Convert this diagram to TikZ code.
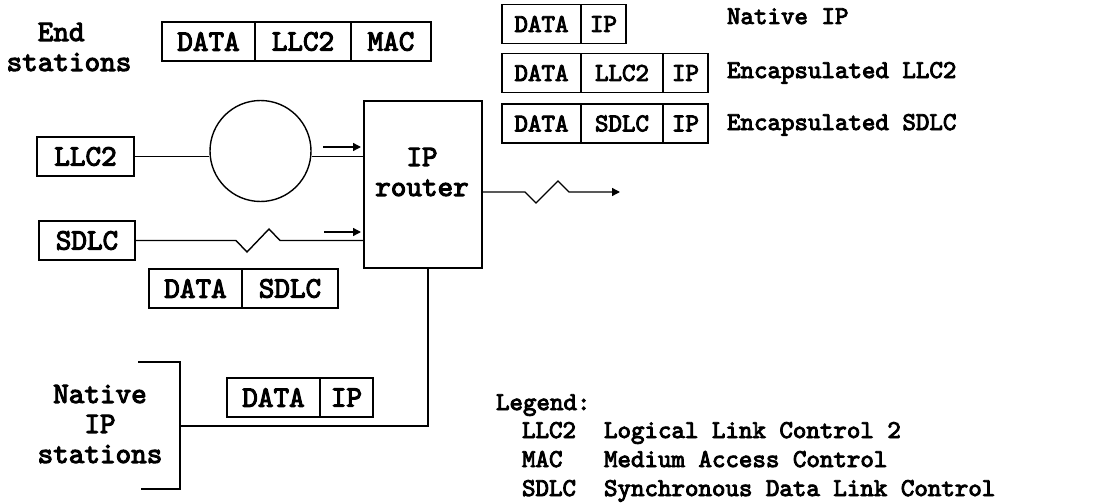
\documentclass[tikz,border=0pt]{standalone}
\usepackage{fontspec}
\newfontfamily\cour{lmmono10-regular.otf}[FakeBold=3.5]
\usetikzlibrary{arrows.meta,positioning}
\newcommand{\bigtt}{\cour\fontsize{29.7}{30}\selectfont}
\newcommand{\smalltt}{\cour\fontsize{25.7}{29}\selectfont}

\begin{document}
\begin{tikzpicture}[x=1pt,y=-1pt,line width=1.4pt,>={Triangle[length=8pt,width=8pt]},
  fld/.style={draw, minimum height=39pt, inner sep=0pt, outer sep=0pt, anchor=west, font=\bigtt},
  sfld/.style={fld, font=\smalltt},
  lbl/.style={font=\bigtt, align=center},
  txt/.style={anchor=base west, font=\smalltt}]
  \useasboundingbox (0,0) rectangle (1093,503);

  % frame at the end stations
  \node[lbl, align=left] (endst) at (69,47) {\phantom{st}End\\stations};
  \node[fld, minimum width=93pt] (md) at (162,41.5) {DATA};
  \node[fld, minimum width=96pt, right=0pt of md] (ml) {LLC2};
  \node[fld, minimum width=80pt, right=0pt of ml] (mm) {MAC};

  % frames leaving the router
  \node[sfld, minimum width=79pt] (ad) at (502,24) {DATA};
  \node[sfld, minimum width=45pt, right=0pt of ad] (ai) {IP};
  \node[sfld, minimum width=79pt] (bd) at (502,73) {DATA};
  \node[sfld, minimum width=82pt, right=0pt of bd] (bl) {LLC2};
  \node[sfld, minimum width=45pt, right=0pt of bl] (bi) {IP};
  \node[sfld, minimum width=79pt] (cd) at (502,123.5) {DATA};
  \node[sfld, minimum width=82pt, right=0pt of cd] (cs) {SDLC};
  \node[sfld, minimum width=45pt, right=0pt of cs] (ci) {IP};
  \node[txt] (nip) at (723,24) {Native IP};
  \node[txt] (ellc) at (723,78) {Encapsulated LLC2};
  \node[txt] (esdlc) at (723,130) {Encapsulated SDLC};

  % router and its links
  \node[draw, minimum width=118pt, minimum height=167pt] (router) at (423,184.5) {};
  \node[lbl] (routertxt) at (422,172) {IP\\router};
  \node[fld, minimum width=97pt] (llc) at (37,156.5) {LLC2};
  \node[draw, circle, minimum size=101pt, inner sep=0pt] (ring) at (260.5,151) {};
  \node[fld, minimum width=96pt] (sdlc) at (39,240.5) {SDLC};

  \draw (llc.east) -- (llc.east -| ring.west);
  \draw (ring.east |- llc.east) -- (router.west |- llc.east);
  \draw[->] (323,147) -- (361,147);
  \draw (sdlc.east) -- (236,240.5) -- (247,252) -- (269,229) -- (280,240.5) -- (router.west |- sdlc.east);
  \draw[->] (324,232) -- (361,232);

  \node[fld, minimum width=93pt] (sd) at (149,288.5) {DATA};
  \node[fld, minimum width=96pt, right=0pt of sd] (ss) {SDLC};

  \coordinate (out) at (620,192);
  \draw[->] (router.east |- out) -- (525,192) -- (536,203) -- (558,181) -- (569,192) -- (out);

  % native IP stations
  \coordinate (brtop) at (138,362);
  \coordinate (brbot) at (141,489);
  \coordinate (brmid) at (180,426);
  \draw (brtop) -- (180,362) -- (180,489) -- (brbot);
  \draw ([xshift=5pt]router.south) -- ([xshift=5pt]router.south |- brmid) -- (brmid);
  \node[lbl] (nativest) at (100,424) {Native\\IP\\stations};
  \node[fld, minimum width=93pt] (nd) at (227,397.5) {DATA};
  \node[fld, minimum width=53pt, right=0pt of nd] (ni) {IP};

  % legend
  \node[txt] (leg) at (492,410) {Legend:};
  \foreach \k/\d [count=\n] in {LLC2/Logical Link Control 2,MAC/Medium Access Control,SDLC/Synchronous Data Link Control}{
    \node[txt] (key\n) at (518,{409+29*\n}) {\k};
    \node[txt] (desc\n) at (600,{409+29*\n}) {\d};
  }
\end{tikzpicture}
\end{document}
